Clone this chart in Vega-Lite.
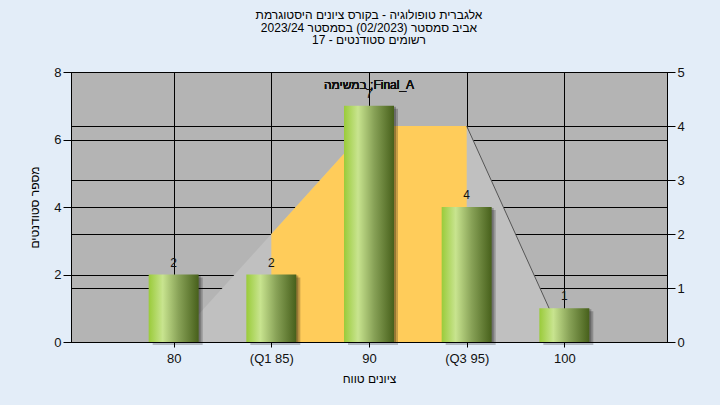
{
  "$schema": "https://vega.github.io/schema/vega-lite/v6.json",
  "width": 596,
  "height": 270,
  "autosize": "none",
  "padding": {"left": 71, "top": 72, "right": 53, "bottom": 63},
  "background": "#E3EDF8",
  "title": {
    "text": ["אלגברית טופולוגיה - בקורס ציונים היסטוגרמת", "2023/24 אביב סמסטר  (02/2023)  בסמסטר", "17 - רשומים סטודנטים"],
    "font": "Liberation Sans",
    "fontSize": 12,
    "fontWeight": "normal",
    "color": "#000000",
    "lineHeight": 12.5,
    "anchor": "middle",
    "offset": 19
  },
  "datasets": {
    "bars": [
      {"score": 80, "count": 2},
      {"score": 85, "count": 2},
      {"score": 90, "count": 7},
      {"score": 95, "count": 4},
      {"score": 100, "count": 1}
    ],
    "poly": [
      {"score": 80, "level": 0},
      {"score": 85, "level": 2},
      {"score": 90, "level": 4},
      {"score": 95, "level": 4},
      {"score": 100, "level": 0}
    ]
  },
  "layer": [
    {
      "data": {"name": "poly"},
      "encoding": {
        "x": {"field": "score", "type": "quantitative", "scale": {"domain": [75, 105], "nice": false, "zero": false},
          "axis": {"values": [80, 85, 90, 95, 100], "title": "ציונים טווח", "labelExpr": "datum.value == 85 ? '(Q1 85)' : datum.value == 95 ? '(Q3 95)' : datum.label", "tickSize": 5, "labelPadding": 5, "titlePadding": 8, "grid": true}},
        "y": {"field": "level", "type": "quantitative", "scale": {"domain": [0, 5], "nice": false},
          "axis": {"orient": "right", "values": [0, 1, 2, 3, 4, 5], "title": null, "tickSize": 8, "labelPadding": 2, "grid": true}}
      },
      "layer": [
        {"mark": {"type": "area", "color": "#C0C0C0"}},
        {"transform": [{"filter": "datum.score >= 85 && datum.score <= 95"}], "mark": {"type": "area", "color": "#FFCC5A"}},
        {"transform": [{"filter": "datum.score >= 95"}], "mark": {"type": "line", "color": "#555555", "strokeWidth": 1}}
      ]
    },
    {
      "data": {"name": "bars"},
      "encoding": {
        "x": {"field": "score", "type": "quantitative", "scale": {"domain": [75, 105], "nice": false, "zero": false},
          "axis": {"values": [80, 85, 90, 95, 100], "title": "ציונים טווח", "labelExpr": "datum.value == 85 ? '(Q1 85)' : datum.value == 95 ? '(Q3 95)' : datum.label", "tickSize": 5, "labelPadding": 5, "titlePadding": 8, "grid": true}},
        "y": {"field": "count", "type": "quantitative", "scale": {"domain": [0, 8], "nice": false},
          "axis": {"orient": "left", "values": [0, 2, 4, 6, 8], "title": "מספר סטודנטים", "tickSize": 8, "labelPadding": 2, "titlePadding": 12, "grid": true}}
      },
      "layer": [
        {"mark": {"type": "bar", "width": 50, "xOffset": 4, "yOffset": 3, "color": "#000000", "opacity": 0.22}},
        {"mark": {"type": "bar", "width": 50, "xOffset": 2, "yOffset": 1, "color": "#000000", "opacity": 0.25}},
        {"mark": {"type": "bar", "width": 50, "color": {"gradient": "linear", "x1": 0, "y1": 0, "x2": 1, "y2": 0, "stops": [
          {"offset": 0, "color": "#9ACB3A"},
          {"offset": 0.28, "color": "#C8E48F"},
          {"offset": 0.6, "color": "#88A257"},
          {"offset": 1, "color": "#47601B"}]}}},
        {"mark": {"type": "text", "baseline": "alphabetic", "dy": -8, "font": "Liberation Sans", "fontSize": 12, "color": "#111111"},
          "encoding": {"text": {"field": "count", "type": "quantitative"}}},
        {"mark": {"type": "text", "baseline": "middle", "dy": 13, "font": "Liberation Sans", "fontSize": 12, "color": "#111111"},
          "encoding": {"x": {"datum": 90}, "y": {"datum": 8}, "text": {"value": "במשימה ;Final_A"}}}
      ]
    }
  ],
  "resolve": {"scale": {"y": "independent"}, "axis": {"y": "independent"}},
  "config": {
    "view": {"fill": "#B4B4B4", "stroke": "#000000", "strokeWidth": 1},
    "axis": {
      "labelFont": "Liberation Sans",
      "labelFontSize": 13,
      "labelColor": "#111111",
      "titleFont": "Liberation Sans",
      "titleFontSize": 12,
      "titleFontWeight": "normal",
      "titleColor": "#000000",
      "tickColor": "#000000",
      "domainColor": "#000000",
      "gridColor": "#000000",
      "gridOpacity": 1,
      "gridWidth": 1,
      "tickWidth": 1,
      "domainWidth": 1
    }
  }
}
